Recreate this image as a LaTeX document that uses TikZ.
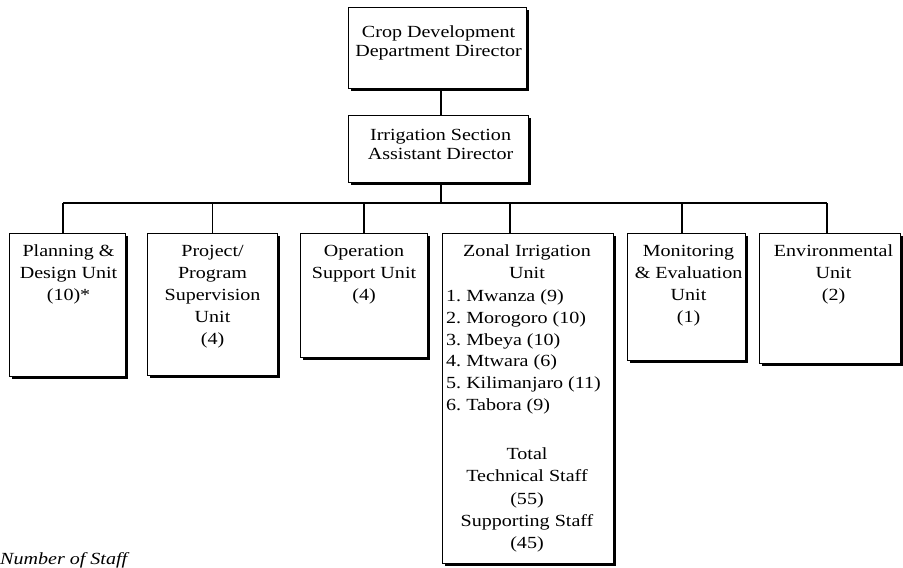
\documentclass[tikz,border=0pt]{standalone}
\usepackage{fontspec}
\setmainfont{Liberation Serif}[FakeStretch=1.18]
\usetikzlibrary{shadows}
\frenchspacing
\tikzset{
  ubox/.style={draw=black, line width=1.1pt, fill=white, rectangle, inner sep=0pt,
    anchor=north west,
    drop shadow={shadow xshift=2.2pt, shadow yshift=-2.2pt, fill=black, opacity=1}},
  link/.style={draw=black, line width=1.4pt},
  rowtxt/.style={anchor=north, inner sep=0pt, align=center, font=\fontsize{17}{22}\selectfont},
  toptxt/.style={anchor=north, inner sep=0pt, align=center, font=\fontsize{17}{19}\selectfont},
  listtxt/.style={anchor=north west, inner sep=0pt, align=left, font=\fontsize{17}{21.7}\selectfont},
  tottxt/.style={anchor=north, inner sep=0pt, align=center, font=\fontsize{17}{22.25}\selectfont},
}
\begin{document}
\begin{tikzpicture}[x=1pt,y=-1pt]
\useasboundingbox (0,0) rectangle (903,568);
\clip (0,0) rectangle (903,568);
\fill[white] (0,0) rectangle (903,568);

% connector coordinates
\coordinate (busL) at (63,203);
\coordinate (busR) at (827,203);
\coordinate (busM) at (441,203);
\coordinate (zs) at (510,203);
\coordinate (ms) at (682,203);

% boxes
\node[ubox, minimum width=178, minimum height=81] (dir) at (348,7) {};
\node[ubox, minimum width=180, minimum height=67] (asst) at (348,115) {};
\node[ubox, minimum width=116, minimum height=143] (plan) at (9,233) {};
\node[ubox, minimum width=130, minimum height=142] (proj) at (147,233) {};
\node[ubox, minimum width=127, minimum height=124] (oper) at (300,233) {};
\node[ubox, minimum width=171, minimum height=330] (zone) at (442,233) {};
\node[ubox, minimum width=118, minimum height=127] (mon) at (627,233) {};
\node[ubox, minimum width=141, minimum height=130] (env) at (759,233) {};

% connectors
\draw[link] (dir.south -| busM) -- (asst.north -| busM);
\draw[link] (asst.south -| busM) -- (busM);
\draw[link] (busL) -- (busR);
\draw[link] (busL) -- (plan.north -| busL);
\draw[link] (proj.north |- busL) -- (proj.north);
\draw[link] (oper.north |- busL) -- (oper.north);
\draw[link] (zs) -- (zone.north -| zs);
\draw[link] (ms) -- (mon.north -| ms);
\draw[link] (busR) -- (env.north -| busR);

% texts
\node[toptxt] (dirT) at ([xshift=1pt,yshift=-17pt]dir.north) {\strut Crop Development\\Department Director};
\node[toptxt] (asstT) at ([xshift=2pt,yshift=-11.7pt]asst.north) {\strut Irrigation Section\\Assistant Director};
\node[rowtxt] (planT) at ([xshift=1pt,yshift=-8pt]plan.north) {\strut Planning \&\\Design Unit\\(10)*};
\node[rowtxt] (projT) at ([yshift=-8pt]proj.north) {\strut Project/\\Program\\Supervision\\Unit\\(4)};
\node[rowtxt] (operT) at ([yshift=-8pt]oper.north) {\strut Operation\\Support Unit\\(4)};
\node[rowtxt] (monT) at ([xshift=2pt,yshift=-8pt]mon.north) {\strut Monitoring\\\& Evaluation\\Unit\\(1)};
\node[rowtxt] (envT) at ([xshift=3.5pt,yshift=-8pt]env.north) {\strut Environmental\\Unit\\(2)};
\node[anchor=north, inner sep=0pt, align=center, font=\fontsize{17}{21.5}\selectfont] (zoneT) at (527,241.4) {\strut Zonal Irrigation\\Unit};
\node[listtxt] (zoneL) at (446,286.3) {\strut 1. Mwanza (9)\\2. Morogoro (10)\\3. Mbeya (10)\\4. Mtwara (6)\\5. Kilimanjaro (11)\\6. Tabora (9)};
\node[tottxt] (zoneS) at (527,443.9) {\strut Total\\Technical Staff\\(55)\\Supporting Staff\\(45)};

\node[anchor=base west, inner sep=0pt, font=\fontsize{17}{20}\selectfont\itshape] (note) at (0,564) {Number of Staff};
\end{tikzpicture}
\end{document}
